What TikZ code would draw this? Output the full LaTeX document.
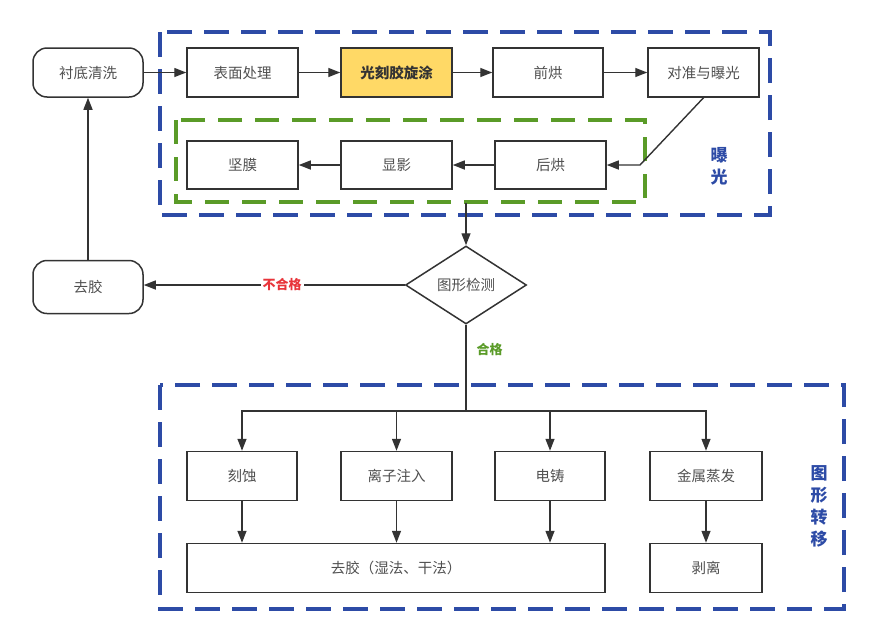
\documentclass[tikz,border=0pt]{standalone}
\usepackage{fontspec}
\newfontfamily\cjk{Noto Sans CJK SC}
\usetikzlibrary{shapes.geometric,arrows.meta}
\definecolor{txtgray}{HTML}{505050}
\definecolor{linegray}{HTML}{333333}
\definecolor{dblue}{HTML}{2D4BA6}
\definecolor{dgreen}{HTML}{5A9B28}
\definecolor{hlyellow}{HTML}{FFD966}
\definecolor{nored}{HTML}{E8343A}
\tikzset{
  stepbox/.style={draw=linegray, line width=1.5pt, minimum width=111pt, minimum height=49pt, inner sep=0pt,
    font=\cjk\fontsize{14.5}{16}\selectfont, text=txtgray},
  roundbox/.style={stepbox, rounded corners=14pt},
  decision/.style={diamond, draw=linegray, line width=1.5pt, minimum width=121pt, minimum height=78pt, inner sep=0pt,
    font=\cjk\fontsize{14.5}{16}\selectfont, text=txtgray},
  conn/.style={draw=linegray, line width=1.4pt, -{Triangle[length=12pt,width=9pt]}},
  plainconn/.style={draw=linegray, line width=1.4pt},
  bluegroup/.style={draw=dblue, line width=4pt, dash pattern=on 25pt off 12pt},
  greengroup/.style={draw=dgreen, line width=4pt, dash pattern=on 24pt off 13pt},
  grouplabel/.style={font=\cjk\bfseries\fontsize{17}{22}\selectfont, text=dblue, align=center},
}
\begin{document}
\begin{tikzpicture}[x=1pt,y=-1pt]
\useasboundingbox (0,0) rectangle (890,643);
% groups
\draw[bluegroup] (160,32) rectangle (770,215);
\draw[greengroup] (176,120) rectangle (645,202);
\draw[bluegroup] (160,385) rectangle (844,609);
\node[grouplabel] (lblexp) at (719,166) {曝\\光};
\node[grouplabel] (lbltr) at (819,506) {图\\形\\转\\移};
% top row
\node[roundbox, minimum width=110pt] (clean) at (88,72.5) {衬底清洗};
\node[stepbox] (surf) at (242.5,72.5) {表面处理};
\node[stepbox, fill=hlyellow, font=\cjk\bfseries\fontsize{14.5}{16}\selectfont, text=black!80] (coat) at (396.5,72.5) {光刻胶旋涂};
\node[stepbox, minimum width=110pt] (pre) at (548,72.5) {前烘};
\node[stepbox] (align) at (703.5,72.5) {对准与曝光};
% second row
\node[stepbox, minimum height=48pt] (hard) at (242.5,165) {坚膜};
\node[stepbox, minimum height=48pt] (dev) at (396.5,165) {显影};
\node[stepbox, minimum height=48pt] (post) at (550.5,165) {后烘};
% decision
\node[decision] (chk) at (466,285) {图形检测};
\node[roundbox, minimum width=110pt, minimum height=53pt] (strip) at (88,287) {去胶};
% bottom
\node[stepbox, minimum width=110pt] (etch) at (242,476) {刻蚀};
\node[stepbox, minimum width=111pt] (ion) at (396.5,476) {离子注入};
\node[stepbox, minimum width=110pt] (elec) at (550,476) {电铸};
\node[stepbox, minimum width=112pt] (metal) at (706,476) {金属蒸发};
\node[stepbox, minimum width=418pt] (rm) at (396,568) {去胶（湿法、干法）};
\node[stepbox, minimum width=112pt] (lift) at (706,568) {剥离};
% connectors top
\draw[conn] (clean) -- (surf);
\draw[conn] (surf) -- (coat);
\draw[conn] (coat) -- (pre);
\draw[conn] (pre) -- (align);
\coordinate (bend) at (640,165);
\draw[conn] (align.south) -- (bend) -- (post.east);
\draw[conn] (post) -- (dev);
\draw[conn] (dev) -- (hard);
\coordinate (grpout) at (466,203);
\draw[conn] (grpout) -- (chk.north);
\draw[conn] (chk.west) -- node[pos=0.47, fill=white, inner sep=2pt, font=\cjk\bfseries\fontsize{13}{15}\selectfont, text=nored] (lblno) {不合格} (chk.west -| strip.east);
\draw[conn] (strip.north) -- (clean.south);
\coordinate (br) at (466,411);
\draw[plainconn] (chk.south) -- (br);
\node[font=\cjk\bfseries\fontsize{13}{15}\selectfont, text=dgreen, anchor=west] (lblok) at (473,350) {合格};
\draw[conn] (br) -| (etch.north);
\draw[conn] (br) -| (ion.north);
\draw[conn] (br) -| (elec.north);
\draw[conn] (br) -| (metal.north);
\draw[conn] (etch.south) -- (etch.south |- rm.north);
\draw[conn] (ion.south) -- (ion.south |- rm.north);
\draw[conn] (elec.south) -- (elec.south |- rm.north);
\draw[conn] (metal) -- (lift);
\end{tikzpicture}
\end{document}
